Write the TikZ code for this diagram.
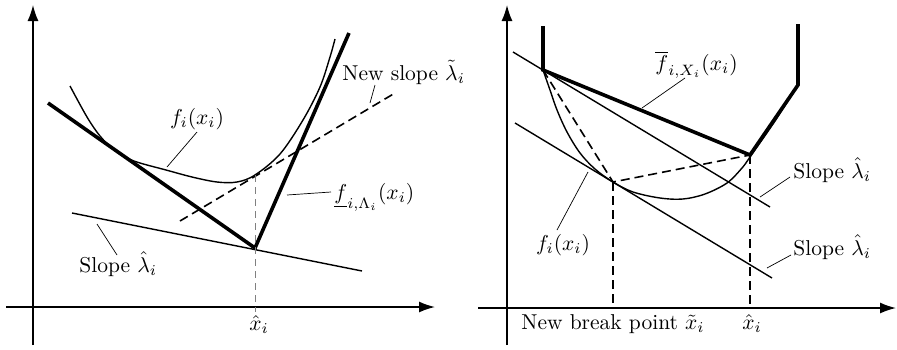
\documentclass[tikz,border=0pt]{standalone}
\usetikzlibrary{arrows.meta}
\begin{document}
\begin{tikzpicture}[x=1pt,y=-1pt,
  lbl/.style={inner sep=0pt, scale=2.15, transform shape},
  axis/.style={line width=1.5pt, -{Latex[length=16pt,width=11pt]}},
  heavy/.style={line width=3.6pt},
  thinln/.style={line width=1.4pt},
  leader/.style={line width=0.7pt},
  dsh/.style={line width=1.6pt, dash pattern=on 9pt off 5pt},
  gdsh/.style={line width=1pt, gray, dash pattern=on 7pt off 5pt}]
\useasboundingbox (0,0) rectangle (897,349);
% ---------- left panel ----------
\coordinate (ly0) at (33,345); \coordinate (ly1) at (33,5);
\coordinate (lx0) at (6,307);  \coordinate (lx1) at (435,307);
\draw[axis] (ly0) -- (ly1);
\draw[axis] (lx0) -- (lx1);
\coordinate (A) at (48,103); \coordinate (B) at (255,248); \coordinate (C) at (349,33);
\coordinate (T) at (255,175);
\draw[thinln] plot[smooth, tension=0.55] coordinates {(70,86) (87,117) (100,136) (114,150) (127,158) (140,163) (166,170) (192,177) (217,182) (237,182) (255,175) (280,154) (303,120) (320,87) (330,57) (335,39)};
\draw[heavy] (A) -- (B) -- (C);
\coordinate (S0) at (72,213); \coordinate (S1) at (362,271);
\draw[thinln] (S0) -- (S1);
\coordinate (D0) at (180,221); \coordinate (D1) at (395,93);
\draw[dsh] (D0) -- (D1);
\coordinate (G1) at (255,312);
\draw[gdsh] (T) -- (G1);
\node[lbl] (fl) at (197,119) {$f_i(x_i)$};
\draw[leader] (197,132) -- (167,167);
\node[lbl, anchor=base west] (ns) at (342,80) {New slope $\tilde\lambda_i$};
\draw[leader] (375,85) -- (370,103);
\node[lbl, anchor=base west] (ul) at (334,199) {$\underline{f}_{i,\Lambda_i}(x_i)$};
\draw[leader] (331,192) -- (287,195);
\node[lbl, anchor=base west] (sl) at (79,272) {Slope $\hat\lambda_i$};
\draw[leader] (117,255) -- (97,224);
\node[lbl, anchor=base] (xh) at (259,330) {$\hat x_i$};
% ---------- right panel ----------
\coordinate (ry0) at (507,345); \coordinate (ry1) at (507,5);
\coordinate (rx0) at (478,308); \coordinate (rx1) at (896,308);
\draw[axis] (ry0) -- (ry1);
\draw[axis] (rx0) -- (rx1);
\coordinate (P) at (543,70); \coordinate (Q) at (750,155); \coordinate (R) at (798,85);
\coordinate (M) at (613,182);
\draw[thinln] plot[smooth, tension=0.55] coordinates {(543,70) (550,90) (557,110) (567,132) (580,153) (595,169) (613,182) (633,192) (660,198) (683,199) (705,194) (727,183) (742,168) (750,157) (775,121) (798,85)};
\coordinate (U0) at (513,52); \coordinate (U1) at (770,207);
\draw[thinln] (U0) -- (U1);
\coordinate (V0) at (515,123); \coordinate (V1) at (772,278);
\draw[thinln] (V0) -- (V1);
\draw[heavy] (543,26) -- (P) -- (Q) -- (R) -- (798,24);
\draw[dsh] (P) -- (M) -- (Q);
\draw[dsh] (M) -- (613,306);
\draw[dsh] (Q) -- (750,307);
\node[lbl, anchor=base west] (ob) at (655,70) {$\overline{f}_{i,X_i}(x_i)$};
\draw[leader] (685,78) -- (642,108);
\node[lbl, anchor=base west] (su) at (793,178) {Slope $\hat\lambda_i$};
\draw[leader] (790,177) -- (760,197);
\node[lbl, anchor=base west] (sd) at (793,255) {Slope $\hat\lambda_i$};
\draw[leader] (791,255) -- (767,268);
\node[lbl, anchor=base] (fr) at (563,250) {$f_i(x_i)$};
\draw[leader] (557,230) -- (588,172);
\node[lbl, anchor=base west] (nb) at (521,329) {New break point $\tilde x_i$};
\node[lbl, anchor=base] (xr) at (752,329) {$\hat x_i$};
\end{tikzpicture}
\end{document}
